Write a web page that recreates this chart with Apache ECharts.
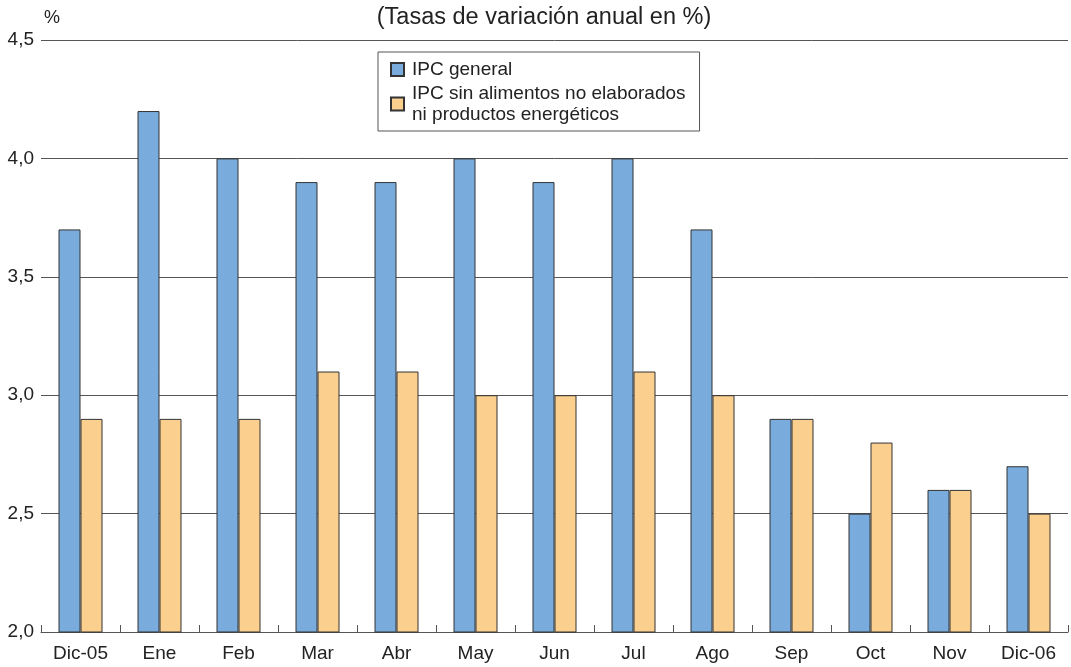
<!DOCTYPE html>
<html><head><meta charset="utf-8">
<script src="https://cdn.jsdelivr.net/npm/echarts@6/dist/echarts.min.js"></script>
<style>html,body{margin:0;padding:0;background:#fff}#c{width:1071px;height:667px}</style>
</head><body><div id="c"></div>
<script>
const categories = ['Dic-05','Ene','Feb','Mar','Abr','May','Jun','Jul','Ago','Sep','Oct','Nov','Dic-06'];
const ipcGeneral = [3.7, 4.2, 4.0, 3.9, 3.9, 4.0, 3.9, 4.0, 3.7, 2.9, 2.5, 2.6, 2.7];
const ipcSubyacente = [2.9, 2.9, 2.9, 3.1, 3.1, 3.0, 3.0, 3.1, 3.0, 2.9, 2.8, 2.6, 2.5];
const seriesNames = ['IPC general', 'IPC sin alimentos no elaborados\nni productos energéticos'];

const font = 'Liberation Sans';
const chart = echarts.init(document.getElementById('c'));
chart.setOption({
  animation: false,
  textStyle: { fontFamily: font, color: '#222' },
  title: [
    { text: '(Tasas de variación anual en %)', left: 539, textAlign: 'center', top: 1,
      textStyle: { fontFamily: font, fontSize: 23.5, fontWeight: 'normal', color: '#222' } },
    { text: '%', left: 39, top: 4,
      textStyle: { fontFamily: font, fontSize: 18, fontWeight: 'normal', color: '#222' } }
  ],
  legend: {
    orient: 'vertical', left: 378, top: 52,
    padding: [7, 14, 6, 12], itemGap: 3,
    borderColor: '#555', borderWidth: 1,
    itemWidth: 13, itemHeight: 13, icon: 'rect',
    textStyle: { fontFamily: font, fontSize: 19, color: '#222', lineHeight: 21, padding: [0, 0, 0, 3] },
    data: seriesNames
  },
  grid: { left: 41, right: 3, top: 40, bottom: 35, containLabel: false },
  xAxis: {
    type: 'category', data: categories,
    axisLine: { lineStyle: { color: '#555', width: 1 } },
    axisTick: { show: true, inside: true, length: 7, lineStyle: { color: '#555' } },
    axisLabel: { fontFamily: font, fontSize: 19, color: '#222', margin: 12 }
  },
  yAxis: {
    type: 'value', min: 2, max: 4.5, interval: 0.5,
    axisLine: { show: false }, axisTick: { show: false },
    splitLine: { lineStyle: { color: '#555', width: 1 } },
    axisLabel: { fontFamily: font, fontSize: 19, color: '#222', margin: 7,
      formatter: v => v.toFixed(1).replace('.', ',') }
  },
  series: [
    { name: seriesNames[0], type: 'bar', data: ipcGeneral, barWidth: 22, barGap: '0%',
      itemStyle: { color: '#79acdc', borderColor: '#333', borderWidth: 1 } },
    { name: seriesNames[1], type: 'bar', data: ipcSubyacente, barWidth: 22,
      itemStyle: { color: '#fbcf8e', borderColor: '#333', borderWidth: 1 } }
  ]
});
</script></body></html>
